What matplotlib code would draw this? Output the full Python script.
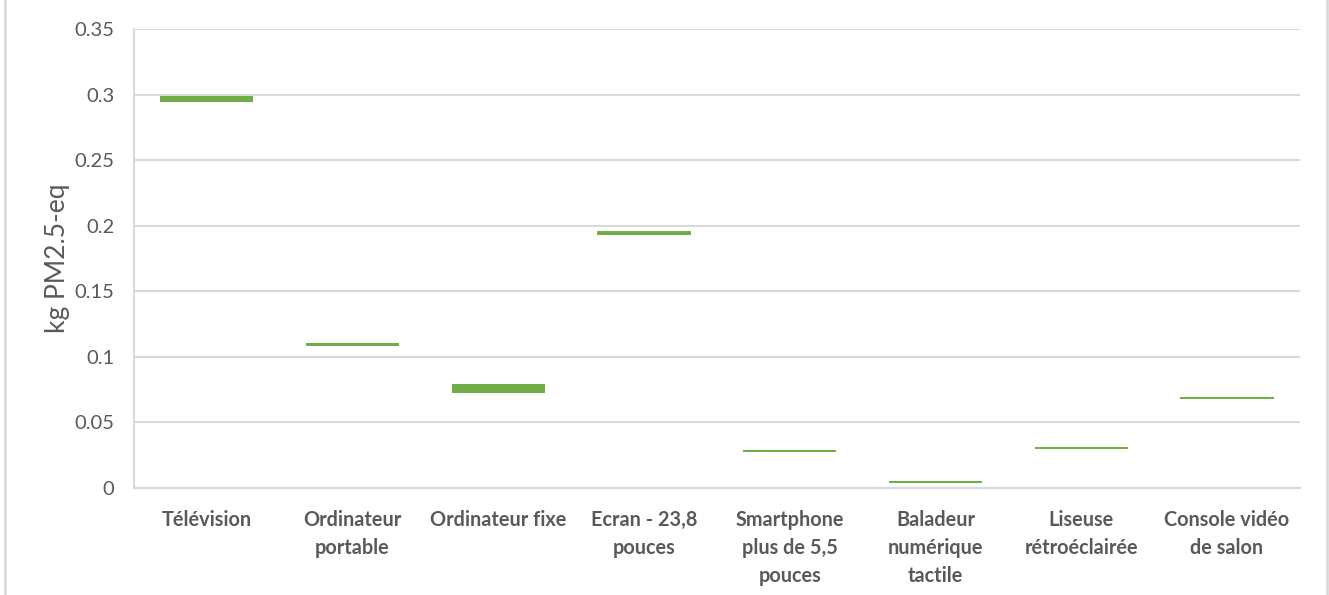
import matplotlib
matplotlib.use("Agg")
import matplotlib.pyplot as plt
from matplotlib.lines import Line2D

# Product categories and their min/max fine-particle impact (kg PM2.5-eq)
categories = [
    "Télévision",
    "Ordinateur\nportable",
    "Ordinateur fixe",
    "Ecran - 23,8\npouces",
    "Smartphone\nplus de 5,5\npouces",
    "Baladeur\nnumérique\ntactile",
    "Liseuse\nrétroéclairée",
    "Console vidéo\nde salon",
]
low_values = [0.2947, 0.1081, 0.0724, 0.1927, 0.0272, 0.0038, 0.0300, 0.0679]
high_values = [0.2991, 0.1108, 0.0791, 0.1960, 0.0287, 0.0051, 0.0315, 0.0696]
y_ticks = [0, 0.05, 0.1, 0.15, 0.2, 0.25, 0.3, 0.35]
y_tick_labels = ["0", "0.05", "0.1", "0.15", "0.2", "0.25", "0.3", "0.35"]
y_label = "kg PM2.5-eq"

TEXT = "#595959"
GRID = "#d9d9d9"
GREEN = "#70ad47"

fig = plt.figure(figsize=(13.29, 5.95), dpi=100)
ax = fig.add_axes([0.1008, 0.1798, 0.8772, 0.7715])

x = list(range(len(categories)))
heights = [h - l for l, h in zip(low_values, high_values)]
ax.bar(x, heights, bottom=low_values, width=0.64, color=GREEN, zorder=3)

ax.set_xlim(-0.5, len(categories) - 0.5)
ax.set_ylim(0, 0.35)
ax.set_yticks(y_ticks)
ax.set_yticklabels(y_tick_labels, fontsize=14.5, color=TEXT, family="Lato")
ax.set_xticks(x)
ax.set_xticklabels(categories, fontsize=14.3, color=TEXT, family="Lato",
                   fontweight="bold", linespacing=1.5, va="top")
ax.tick_params(axis="both", length=0)
ax.tick_params(axis="y", pad=14)
ax.tick_params(axis="x", pad=16)

ax.grid(axis="y", color=GRID, linewidth=1.5, zorder=0)
for side in ("top", "right"):
    ax.spines[side].set_visible(False)
ax.spines["left"].set_color(GRID)
ax.spines["left"].set_linewidth(1.5)
ax.spines["bottom"].set_color(GRID)
ax.spines["bottom"].set_linewidth(1.5)

ax.set_ylabel(y_label, fontsize=19, color=TEXT, family="Lato", labelpad=3)

# Outer chart frame edges
fig.add_artist(Line2D([0.0035, 0.0035], [0, 1], transform=fig.transFigure,
                      color=GRID, linewidth=2))
fig.add_artist(Line2D([0.9985, 0.9985], [0, 1], transform=fig.transFigure,
                      color=GRID, linewidth=2))

fig.savefig("out.png", dpi=100, facecolor="white")
